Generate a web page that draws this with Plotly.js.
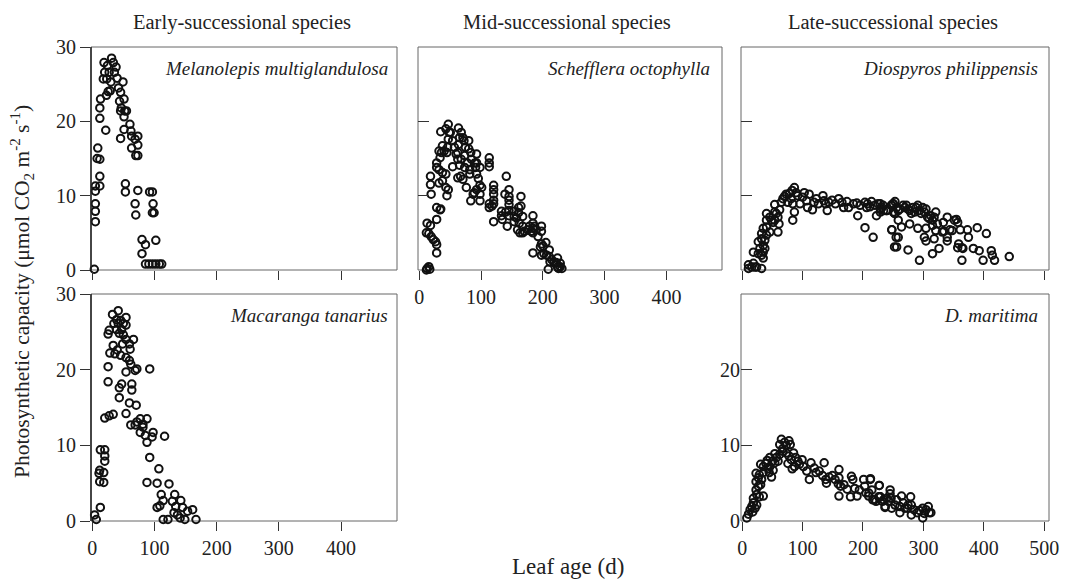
<!DOCTYPE html>
<html>
<head>
<meta charset="utf-8">
<script src="https://cdn.plot.ly/plotly-3.0.1.min.js"></script>
<style>html,body{margin:0;padding:0;background:#fff;}#chart{width:1073px;height:586px;}</style>
</head>
<body>
<div id="chart"></div>
<script>
// ---- Data (leaf age in days, photosynthetic capacity) ----
const columnTitles = ["Early-successional species", "Mid-successional species", "Late-successional species"];
const speciesNames = ["Melanolepis multiglandulosa", "Schefflera octophylla", "Diospyros philippensis", "Macaranga tanarius", "D. maritima"];
const xTicksShort = [0, 100, 200, 300, 400];
const xTicksLong = [0, 100, 200, 300, 400, 500];
const yTicksFull = [0, 10, 20, 30];
const yTicksShort = [0, 10, 20];

const melanolepis = [
[3.3,0.1],[18.9,27.9],[24.4,27.5],[31.1,28.5],[33.9,27.9],[38.3,27.3],[27.2,26.6],[20,26.6],[17.8,25.7],[23.3,25.7],
[35.6,26.6],[30,25.3],[40,25.8],[49.4,25.3],[42.2,24.5],[45.6,23.9],[51.1,23.0],[43.9,22.7],[46.7,21.8],[52.2,21.4],
[55,21.4],[45.6,21.4],[51.1,20.6],[25.6,24.0],[22.8,23.5],[13.3,23.0],[28.9,24.1],[12.2,21.8],[12.2,20.4],[21.7,18.8],
[45.6,17.7],[51.1,18.9],[60.6,19.6],[62.2,18.7],[63.3,18.0],[68.9,17.6],[73.3,18.0],[63.3,16.4],[73.3,16.8],[70,15.4],
[73.3,15.4],[8.9,16.4],[7.8,15.0],[12.2,14.9],[12.2,12.6],[5,11.3],[12.2,11.3],[5,10.6],[5,8.9],[5,7.9],[5,6.5],
[53.3,11.6],[53.3,10.5],[73.3,10.7],[68.9,8.9],[70,7.4],[92.2,10.5],[96.7,10.5],[97.8,8.9],[96.7,7.7],[99.4,7.7],
[80,4.1],[85.6,3.4],[102.2,4.0],[80,2.2],[85.6,0.8],[91.1,0.8],[96.7,0.8],[102.2,0.8],[107.8,0.8],[111.7,0.8]
];

const schefflera = [
[12.7,0.2],[15.5,0.45],[11.6,0],[17.1,0.1],
[12.7,6.3],[18.2,6.0],[11.6,5.0],[15.5,4.9],[19.3,4.5],[22.7,4.1],[26.5,3.8],[28.2,3.4],[28.2,2.3],[28.2,6.8],[33.7,8.1],[28.2,8.4],[34.8,8.2],
[18.2,12.6],[18.2,11.5],[19.3,10.2],[32.0,11.7],[37.6,12.0],[43.1,11.1],[44.8,10.0],[47.0,10.8],[28.2,14.4],[28.2,13.8],[32.0,13.5],[37.6,13.1],
[43.1,12.9],[33.7,15.1],[35.9,15.8],[40.3,16.0],[44.8,15.8],[32.0,16.0],[37.6,16.7],[45.9,16.5],[47.0,17.6],[48.6,18.5],[34.8,18.6],[43.1,19.0],
[47.0,19.6],[50.3,18.5],[54.1,17.4],[56.9,16.5],[59.7,15.6],[54.1,13.9],[62.4,14.9],[62.4,15.8],[63.5,16.9],[65.2,17.8],[63.5,19.1],[68.0,18.5],
[70.7,17.8],[72.4,17.4],[74.6,16.5],[73.5,15.4],[80.1,17.4],[80.1,16.3],[83.4,15.8],[68.0,14.9],[65.2,14.1],[62.4,12.4],[66.9,12.6],[70.7,12.2],
[73.5,13.8],[77.9,14.4],[81.8,13.5],[84.5,14.9],[90.1,14.4],[92.8,15.6],[91.2,13.8],[98.3,13.8],[92.8,12.9],[95.6,12.3],[98.3,11.4],[101.1,11.1],
[92.8,10.8],[87.3,10.2],[81.8,12.9],[76.2,11.1],[83.4,9.3],[98.3,9.3],[89.0,10.4],[98.3,10.2],[92.8,14.4],
[113.3,15.1],[113.3,14.4],[113.3,13.9],[120.4,11.4],[120.4,10.8],[120.4,10.2],[120.4,9.4],[120.4,8.9],[113.3,8.9],[113.3,8.4],[117.7,8.6],
[120.4,6.5],[140.9,12.6],[138.7,10.2],[145.3,10.8],[145.3,9.9],[145.3,9.4],[145.3,8.8],[145.3,8.0],[145.3,7.3],[139.8,7.8],[133.1,7.9],
[133.1,7.3],[134.3,6.8],[142.5,5.9],[153.6,7.9],[153.6,7.2],[153.6,6.5],[157.5,7.0],[160.8,8.4],[160.8,7.7],[164.6,9.9],[164.6,8.6],
[161.9,6.3],[159.1,5.4],[163.0,5.0],[167.4,5.9],[167.4,5.0],[167.4,7.2],[170.2,5.2],[175.7,5.4],[178.5,5.9],[181.2,5.2],[184.0,7.3],
[184.0,6.3],[184.0,5.6],[184.0,5.0],[186.7,5.9],[189.5,5.4],[197.8,5.9],[197.8,5.2],[192.3,4.5],[197.8,3.5],[200.6,3.2],[205.0,3.7],
[196.1,3.1],[201.7,2.2],[206.1,2.0],[210.5,2.7],[210.5,1.8],[211.6,1.1],[214.4,1.4],[218.2,1.0],[221.5,1.0],[223.8,1.6],[223.8,0.4],
[228.2,0.9],[228.2,0.45],[230.9,0.2],[225.4,0.2],[208.8,0.1],[184.0,2.3],[197.8,2.0]
];

const diospyrosP = [
[10.3,0.2],[15.8,0.4],[21.2,0.4],[23.9,0.4],[32.1,0.2],[10.3,0.7],[18.5,0.9],
[18.5,2.4],[26.6,2.2],[32.1,2.0],[34.8,1.6],[29.3,2.9],[34.8,3.3],[26.6,3.8],[32.1,4.2],[37.5,4.0],[40.2,4.7],[32.1,4.9],[34.8,5.6],[40.2,5.8],
[45.7,5.1],[37.5,2.9],[34.8,2.4],[40.2,6.7],[40.2,7.6],[45.7,7.1],[48.4,6.7],[51.1,6.4],[53.8,6.7],[56.5,7.6],[59.2,7.1],[60.9,6.2],[59.2,5.1],
[53.8,7.8],[53.8,8.8],[62.0,8.1],[64.7,9.1],[67.4,9.6],[70.1,9.9],[72.8,10.2],[78.3,10.3],[82.6,10.7],[86.4,11.1],[89.1,10.4],[81.0,9.6],
[75.5,9.1],[83.7,8.9],[86.4,7.8],[83.7,6.7],[91.8,10.0],[95.7,8.9],[100.0,9.8],[102.7,10.4],[106.5,9.3],[110.9,10.2],[108.2,8.4],[116.3,8.1],
[119.0,9.1],[122.8,9.6],[126.1,8.9],[133.7,10.0],[135.3,9.3],[138.0,8.9],[140.8,8.0],[143.5,9.1],[148.9,9.4],[154.3,8.9],[159.8,9.6],[165.2,9.1],
[167.9,8.4],[173.4,9.2],[176.1,8.4],[184.2,8.9],[189.7,9.0],[191.3,7.3],[195.1,8.7],[203.3,9.1],[206.0,8.4],[203.3,5.7],[207.6,8.9],[211.4,8.5],
[214.1,9.2],[216.8,4.4],[222.3,7.3],[219.6,8.7],[225.0,8.9],[229.3,8.2],[233.2,8.7],[238.6,8.0],[246.7,8.7],[249.5,8.9],[252.2,7.6],[247.8,5.4],
[254.9,4.4],[252.2,3.1],
[228.6,8.9],[231.4,8.4],[228.6,7.8],[234.1,8.0],[239.5,8.0],[247.6,8.7],[250.3,8.9],[253.0,9.2],[250.3,7.8],[255.7,8.4],[253.0,7.6],[258.4,8.0],
[261.1,8.2],[266.5,8.7],[269.2,8.4],[271.9,8.7],[274.6,8.2],[277.3,8.0],[280.0,7.6],[282.7,8.4],[285.4,7.8],[288.1,8.4],[290.8,8.7],[293.5,8.0],
[296.2,7.6],[298.9,8.4],[301.6,7.8],[304.3,8.2],[307.0,7.1],[309.7,6.9],[312.4,7.3],[315.1,6.7],[317.8,7.1],[320.5,7.8],[323.2,6.2],[320.5,5.3],
[315.1,6.0],[258.4,6.7],[263.8,5.8],[277.3,6.2],[290.8,5.6],[304.3,5.6],[247.6,5.4],[258.4,4.4],[255.7,3.1],[274.6,2.7],[293.5,1.3],[301.6,4.4],
[304.3,3.9],[317.8,4.2],[315.1,2.2],[325.9,2.9],[331.4,5.1],[334.1,5.2],[333.0,6.4],[339.5,7.1],[339.5,4.4],[339.5,3.9],[343.8,5.4],[347.6,5.3],
[351.4,6.7],[354.6,6.8],[356.8,6.4],[361.1,5.4],[358.4,3.5],[356.8,3.0],[363.8,3.0],[365.4,2.9],[363.8,1.3],[373.0,5.4],[374.6,4.4],[382.7,2.9],
[389.2,5.7],[392.4,2.6],[398.9,1.3],[404.3,4.9],[412.4,2.6],[414.1,2.0],[417.8,1.3],[442.2,1.8]
];

const macaranga = [
[41.8,27.8],[32.6,27.3],[54.3,26.9],[39.1,26.6],[45.7,26.5],[34.8,26.1],[41.8,26.1],[50.0,26.1],[54.3,25.9],[27.2,25.2],[39.1,25.3],[47.3,25.3],
[25.5,24.7],[43.5,24.8],[50.0,24.6],[66.3,24.0],[54.3,24.0],[48.9,23.4],[33.7,23.2],[59.8,23.4],[40.2,22.6],[28.3,22.2],[60.9,22.7],[36.4,22.1],
[45.7,21.9],[54.3,21.6],[59.8,21.2],[62.0,20.7],[25.5,20.4],[71.7,20.1],[54.3,19.7],[92.4,20.1],[69.0,19.9],[25.5,18.4],[47.3,18.1],[43.5,17.6],
[63.6,18.1],[63.6,17.3],[43.5,16.3],[59.8,15.6],[70.7,15.3],[54.3,14.2],[33.7,14.1],[20.1,13.6],[27.2,13.9],[77.2,13.5],[88.0,13.5],[71.7,13.1],
[81.5,12.8],[62.0,12.7],[69.0,12.7],[81.5,12.4],[77.2,11.7],[85.3,11.3],[97.8,11.7],[96.2,11.1],[88.0,10.4],[116.3,11.2],[92.4,8.4],[13.0,9.4],
[20.1,9.4],[20.1,8.6],[20.1,7.9],[12.0,6.7],[18.5,6.4],[10.9,6.3],[12.0,5.2],[18.5,5.1],[107.1,6.9],[88.0,5.1],[104.3,5.0],[123.4,4.9],
[110.9,3.5],[132.6,3.5],[114.1,2.7],[128.8,2.6],[142.4,2.7],[104.3,1.8],[108.7,2.0],[134.2,1.9],[145.1,1.8],[153.3,1.3],[161.4,1.5],[131.5,1.1],
[137.0,0.8],[141.3,0.4],[148.9,0.2],[166.8,0.2],[114.1,0.2],[121.7,0.2],[13.0,1.8],[3.8,0.8],[6.5,0.2]
];

const diospyrosM = [
[7.6,0.4],[10.4,0.9],[13.1,1.5],[15.8,1.9],[18.5,2.4],[17.4,1.2],[21.3,1.7],[24.0,2.1],[18.5,3.0],[24.0,3.5],[28.3,3.2],[34.9,3.3],[22.9,4.1],
[26.7,4.6],[30.5,4.8],[22.9,5.2],[26.7,5.7],[32.2,5.5],[22.9,6.3],[28.3,6.1],[34.9,6.4],[30.5,7.5],[34.9,7.2],[39.2,7.6],[43.1,6.9],[44.7,6.4],
[48.5,5.8],[41.4,8.0],[45.8,8.4],[50.1,7.9],[54.0,7.7],[45.8,7.2],[51.2,6.7],[54.0,8.9],[56.7,8.4],[59.4,7.9],[62.1,8.8],[66.5,9.5],[62.1,10.1],
[64.9,10.8],[70.3,10.4],[73.0,10.0],[77.4,10.6],[79.6,10.1],[67.6,9.2],[73.0,9.0],[77.4,8.6],[81.2,8.1],[85.0,9.0],[88.3,8.4],[75.7,7.6],[82.8,6.9],
[86.6,7.2],[92.1,7.9],[94.8,7.5],[99.2,8.1],[101.4,7.2],[106.8,6.6],[113.9,7.7],[111.2,5.5],[119.3,7.0],[122.1,6.4],[127.5,6.6],[135.7,7.7],
[133.0,6.0],[138.4,5.5],[143.9,5.8],[139.5,5.0],[149.3,6.0],[153.7,5.5],[160.2,6.8],[160.2,5.7],[159.1,4.9],[162.9,4.6],[160.2,3.3],[168.4,4.8],
[173.8,4.2],[180.9,5.9],[183.1,5.5],[179.3,3.2],[186.4,4.3],[190.2,3.3],[194.0,4.1],[201.1,5.5],[202.7,4.6],[204.9,3.7],[209.3,3.3],[212.0,5.5],
[214.7,4.1],[219.1,2.8],[226.7,4.7],[228.3,3.2],[232.2,2.6],[236.5,1.8],[239.2,3.0],
[212.4,5.6],[209.7,3.7],[216.2,2.8],[221.6,2.6],[227.0,4.7],[225.9,3.2],[228.6,3.2],[234.1,2.8],[236.8,1.9],[242.2,2.6],[244.9,4.1],[244.9,3.6],
[246.5,3.0],[247.6,1.7],[253.0,2.1],[255.7,2.8],[261.1,1.9],[261.1,1.1],[263.8,3.3],[266.5,2.4],[269.2,1.7],[273.5,1.7],[274.6,2.1],[278.9,3.2],
[280.0,2.1],[280.0,0.8],[284.3,1.5],[289.7,1.1],[293.5,1.4],[298.9,1.7],[298.9,0.4],[301.6,1.0],[308.1,1.9],[309.7,1.1],[312.4,1.1],[304.3,1.5]
];

// ---- Layout helpers ----
const W = 1073, H = 586;
const FONT = "Liberation Serif";
const colPx = [[91, 397], [418, 722], [741, 1049]];
const rowPx = [[47, 270], [294, 521]];
const xd = c => [colPx[c][0] / W, colPx[c][1] / W];
const yd = r => [1 - rowPx[r][1] / H, 1 - rowPx[r][0] / H];

const marker = {symbol: 'circle-open', size: 7.5, color: '#111', line: {width: 2, color: '#111'}};
function trace(pts, n) {
  return {x: pts.map(p => p[0]), y: pts.map(p => p[1]), type: 'scatter', mode: 'markers',
    xaxis: 'x' + (n === 1 ? '' : n), yaxis: 'y' + (n === 1 ? '' : n), marker: marker,
    cliponaxis: false, showlegend: false, hoverinfo: 'skip'};
}
const data = [trace(melanolepis, 1), trace(schefflera, 2), trace(diospyrosP, 3), trace(macaranga, 4), trace(diospyrosM, 5)];

const tickFont = {family: FONT, size: 20, color: '#222'};
function xax(c, anchor, labels, vals, range) {
  return {domain: xd(c), anchor: anchor, range: range, tickvals: vals, ticktext: vals.map(String),
    showticklabels: labels, ticks: 'outside', ticklen: 9, tickwidth: 1, tickcolor: '#333',
    showline: false, zeroline: false, showgrid: false, tickfont: tickFont, fixedrange: true};
}
function yax(r, anchor, labels, vals, inside) {
  return {domain: yd(r), anchor: anchor, range: [0, 30], tickvals: vals, ticktext: vals.map(String),
    showticklabels: labels, ticks: inside ? 'inside' : 'outside', ticklen: inside ? 11 : 10, tickwidth: 1, tickcolor: '#333',
    showline: false, zeroline: false, showgrid: false, tickfont: tickFont, fixedrange: true};
}

const layout = {
  width: W, height: H, margin: {l: 0, r: 0, t: 0, b: 0}, paper_bgcolor: '#fff', plot_bgcolor: 'rgba(0,0,0,0)',
  font: {family: FONT, color: '#222'},
  xaxis:  xax(0, 'y', false, xTicksShort, [-2, 490]),
  yaxis:  yax(0, 'x', true, yTicksFull, false),
  xaxis2: xax(1, 'y2', true, xTicksShort, [-2, 490]),
  yaxis2: yax(0, 'x2', false, [10, 20], true),
  xaxis3: xax(2, 'y3', false, xTicksLong, [-2, 508]),
  yaxis3: yax(0, 'x3', false, [10, 20], true),
  xaxis4: xax(0, 'y4', true, xTicksShort, [-2, 490]),
  yaxis4: yax(1, 'x4', true, yTicksFull, false),
  xaxis5: xax(2, 'y5', true, xTicksLong, [-2, 508]),
  yaxis5: yax(1, 'x5', true, yTicksShort, true),
  shapes: [],
  annotations: []
};
layout.yaxis5.ticklabelposition = 'outside';

// Frames for each panel
const frames = [['x', 'y'], ['x2', 'y2'], ['x3', 'y3'], ['x4', 'y4'], ['x5', 'y5']];
frames.forEach(f => {
  layout.shapes.push({type: 'rect', xref: f[0] + ' domain', yref: f[1] + ' domain', x0: 0, x1: 1, y0: 0, y1: 1,
    line: {color: '#666', width: 1}, layer: 'below'});
});
// darker left axis on early column
[['x', 'y'], ['x4', 'y4']].forEach(f => {
  layout.shapes.push({type: 'line', xref: f[0] + ' domain', yref: f[1] + ' domain', x0: 0, x1: 0, y0: 0, y1: 1,
    line: {color: '#222', width: 1.5}});
});

// Column titles
const colCenters = [242, 567, 893];
columnTitles.forEach((t, i) => {
  layout.annotations.push({text: t, xref: 'paper', yref: 'paper', x: colCenters[i] / W, y: 1 - 22 / H,
    xanchor: 'center', yanchor: 'middle', showarrow: false, font: {family: FONT, size: 20.5, color: '#222'}});
});
// Species labels
const spPos = [[390, 69], [712, 69], [1040, 69], [390, 315], [1040, 315]];
speciesNames.forEach((s, i) => {
  layout.annotations.push({text: '<i>' + s + '</i>', xref: 'paper', yref: 'paper', x: spPos[i][0] / W, y: 1 - spPos[i][1] / H,
    xanchor: 'right', yanchor: 'middle', showarrow: false, font: {family: FONT, size: 19, color: '#222'}});
});
// Axis titles
layout.annotations.push({text: 'Photosynthetic capacity (μmol CO<sub>2</sub> m<sup>-2</sup> s<sup>-1</sup>)', xref: 'paper', yref: 'paper',
  x: 22 / W, y: 1 - 292 / H, xanchor: 'center', yanchor: 'middle', textangle: -90, showarrow: false,
  font: {family: FONT, size: 21.5, color: '#222'}});
layout.annotations.push({text: 'Leaf age (d)', xref: 'paper', yref: 'paper', x: 568 / W, y: 1 - 566 / H,
  xanchor: 'center', yanchor: 'middle', showarrow: false, font: {family: FONT, size: 23, color: '#222'}});

Plotly.newPlot('chart', data, layout, {staticPlot: true, displayModeBar: false});
</script>
</body>
</html>
